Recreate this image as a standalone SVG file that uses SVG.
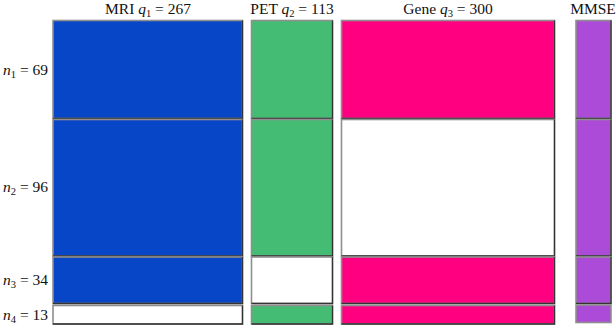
<svg xmlns="http://www.w3.org/2000/svg" width="616" height="326" viewBox="0 0 616 326">
<style>
.lbl{font-family:"Liberation Serif","DejaVu Serif",serif;font-size:15.5px;fill:#111}
.it{font-style:italic}
.sub{font-size:10.5px}
.blk{stroke:#8f8f8f;stroke-width:1.6}
.edge{fill:none;stroke:#333;stroke-width:1.3}
.b{fill:#0846c8}.g{fill:#44bc74}.p{fill:#ff0080}.v{fill:#ab4bd8}.w{fill:#ffffff}
</style>
<rect width="616" height="326" fill="#fff"/>
<g id="header-labels">
<text class="lbl" x="148" y="14" text-anchor="middle">MRI <tspan class="it">q</tspan><tspan class="sub" dy="3">1</tspan><tspan dy="-3"> = 267</tspan></text>
<text class="lbl" x="292" y="14" text-anchor="middle">PET <tspan class="it">q</tspan><tspan class="sub" dy="3">2</tspan><tspan dy="-3"> = 113</tspan></text>
<text class="lbl" x="448" y="14" text-anchor="middle">Gene <tspan class="it">q</tspan><tspan class="sub" dy="3">3</tspan><tspan dy="-3"> = 300</tspan></text>
<text class="lbl" x="593" y="14" text-anchor="middle">MMSE</text>
</g>
<g id="row-labels">
<text class="lbl" x="48" y="75" text-anchor="end"><tspan class="it">n</tspan><tspan class="sub" dy="3">1</tspan><tspan dy="-3"> = 69</tspan></text>
<text class="lbl" x="48" y="192" text-anchor="end"><tspan class="it">n</tspan><tspan class="sub" dy="3">2</tspan><tspan dy="-3"> = 96</tspan></text>
<text class="lbl" x="48" y="285" text-anchor="end"><tspan class="it">n</tspan><tspan class="sub" dy="3">3</tspan><tspan dy="-3"> = 34</tspan></text>
<text class="lbl" x="48" y="320" text-anchor="end"><tspan class="it">n</tspan><tspan class="sub" dy="3">4</tspan><tspan dy="-3"> = 13</tspan></text>
</g>
<g id="col-mri">
<rect class="blk b" x="53" y="20.5" width="189.5" height="98"/><path class="edge" d="M53 118.5H242.5V20.5"/>
<rect class="blk b" x="53" y="119.5" width="189.5" height="136.5"/><path class="edge" d="M53 256H242.5V119.5"/>
<rect class="blk b" x="53" y="257" width="189.5" height="46.5"/><path class="edge" d="M53 303.5H242.5V257"/>
<rect class="blk w" x="53" y="305.5" width="189.5" height="18.5"/><path class="edge" d="M53 324H242.5V305.5"/>
</g>
<g id="col-pet">
<rect class="blk g" x="251.5" y="20.5" width="81" height="98"/><path class="edge" d="M251.5 118.5H332.5V20.5"/>
<rect class="blk g" x="251.5" y="119.5" width="81" height="136.5"/><path class="edge" d="M251.5 256H332.5V119.5"/>
<rect class="blk w" x="251.5" y="257" width="81" height="46.5"/><path class="edge" d="M251.5 303.5H332.5V257"/>
<rect class="blk g" x="251.5" y="305.5" width="81" height="18.5"/><path class="edge" d="M251.5 324H332.5V305.5"/>
</g>
<g id="col-gene">
<rect class="blk p" x="341.5" y="20.5" width="213" height="98"/><path class="edge" d="M341.5 118.5H554.5V20.5"/>
<rect class="blk w" x="341.5" y="119.5" width="213" height="136.5"/><path class="edge" d="M341.5 256H554.5V119.5"/>
<rect class="blk p" x="341.5" y="257" width="213" height="46.5"/><path class="edge" d="M341.5 303.5H554.5V257"/>
<rect class="blk p" x="341.5" y="305.5" width="213" height="18.5"/><path class="edge" d="M341.5 324H554.5V305.5"/>
</g>
<g id="col-mmse">
<rect class="blk v" x="576" y="20.5" width="35" height="98"/><path class="edge" d="M576 118.5H611V20.5"/>
<rect class="blk v" x="576" y="119.5" width="35" height="136.5"/><path class="edge" d="M576 256H611V119.5"/>
<rect class="blk v" x="576" y="257" width="35" height="46.5"/><path class="edge" d="M576 303.5H611V257"/>
<rect class="blk v" x="576" y="305" width="35" height="17.5"/>
</g>
<g id="connectors"></g>
</svg>
